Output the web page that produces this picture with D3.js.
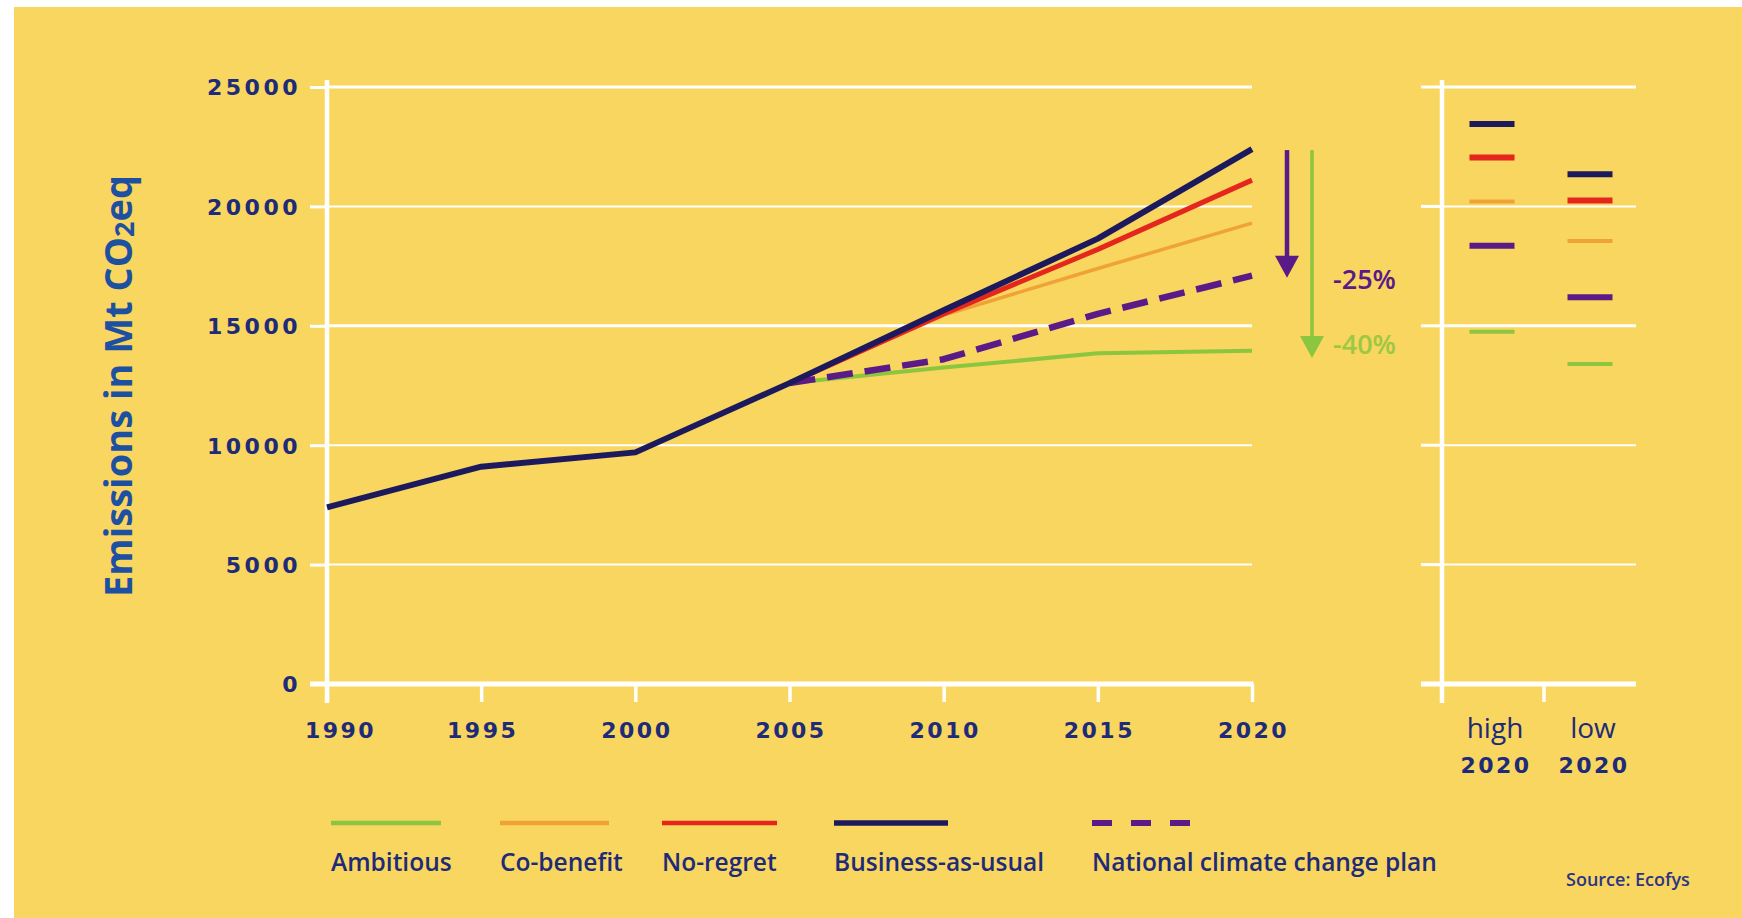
<!DOCTYPE html>
<html><head><meta charset="utf-8">
<script src="https://cdn.jsdelivr.net/npm/d3@7"></script>
<style>body{margin:0;background:#fff;} svg{display:block}</style>
</head><body>
<svg id="chart" width="1742" height="918"></svg>
<script>
// ---- data ----
const years = [1990, 1995, 2000, 2005, 2010, 2015, 2020];
const scenarioYears = [2005, 2010, 2015, 2020];
const businessAsUsual = [7400, 9100, 9700, 12600, 15650, 18650, 22400];
const noRegret = [12600, 15500, 18200, 21100];
const coBenefit = [12600, 15450, 17400, 19300];
const ambitious = [12600, 13250, 13850, 13950];
const nationalPlan = [12600, 13600, 15500, 17100];
const yTicks = [0, 5000, 10000, 15000, 20000, 25000];
const seriesNames = ["Ambitious", "Co-benefit", "No-regret", "Business-as-usual", "National climate change plan"];
const rangeCategories = ["high", "low"];
const high2020 = [14750, 20200, 22050, 23450, 18350];   // order of seriesNames
const low2020 = [13400, 18550, 20250, 21350, 16200];
const reductionPct = [25, 40];
const reductionLabels = ["-25%", "-40%"];

// ---- style ----
const colors = ["#8cc63f", "#f0a237", "#e5261c", "#1c1a5c", "#5a1a88"];
const widths = [4, 3.5, 5, 6, 6.5];
const navyText = "#1e2b78";
const bg = "#f8d65f";
const font = "'DejaVu Sans', sans-serif";
const legFont = "'Open Sans', sans-serif";

const svg = d3.select("#chart");
svg.append("rect").attr("x", 14).attr("y", 7).attr("width", 1742).attr("height", 918).attr("fill", bg);

const x = d3.scaleLinear().domain([1990, 2020]).range([327, 1252]);
const y = d3.scaleLinear().domain([0, 25000]).range([684, 87]);
const band = d3.scaleBand().domain(rangeCategories).range([1446, 1642]);

// gridlines main
const g = svg.append("g");
g.selectAll(".grid").data(yTicks.filter(d => d > 0)).join("line")
  .attr("x1", 327).attr("x2", x(2020)).attr("y1", d => y(d)).attr("y2", d => y(d))
  .attr("stroke", "#fff").attr("stroke-width", d => (d === 25000 || d === 15000) ? 3 : 2);
// gridlines right panel
g.selectAll(".grid2").data(yTicks.filter(d => d > 0)).join("line")
  .attr("x1", 1442).attr("x2", band.range()[1] - 6).attr("y1", d => y(d)).attr("y2", d => y(d))
  .attr("stroke", "#fff").attr("stroke-width", d => (d === 25000 || d === 15000) ? 3 : 2);

// y axis (main)
const yAxis = svg.append("g").attr("transform", `translate(${x(1990)},0)`)
  .call(d3.axisLeft(y).tickValues(yTicks).tickSize(17).tickPadding(10).tickFormat(d3.format("d")));
yAxis.select(".domain").remove();
yAxis.selectAll(".tick line").attr("stroke", "#fff").attr("stroke-width", 3);
yAxis.selectAll(".tick text").attr("fill", navyText).attr("font-family", font).attr("font-weight", "bold")
  .attr("font-size", 22).attr("letter-spacing", 3.5).attr("x", -26).attr("dy", "0.36em");
svg.append("line").attr("x1", x(1990)).attr("x2", x(1990)).attr("y1", 80).attr("y2", 703)
  .attr("stroke", "#fff").attr("stroke-width", 4.5);

// x axis (main)
const xAxis = svg.append("g").attr("transform", `translate(0,${y(0)})`)
  .call(d3.axisBottom(x).tickValues(years).tickSize(18).tickFormat(d3.format("d")));
xAxis.select(".domain").remove();
xAxis.selectAll(".tick line").attr("stroke", "#fff").attr("stroke-width", 3.5);
xAxis.selectAll(".tick text").attr("fill", navyText).attr("font-family", font).attr("font-weight", "bold")
  .attr("font-size", 22).attr("letter-spacing", 2.5).attr("y", 46).attr("dy", "0.36em")
  .attr("dx", (d, i) => i === 0 ? 13 : 1);
svg.append("line").attr("x1", 310).attr("x2", x(2020) + 1.5).attr("y1", y(0)).attr("y2", y(0))
  .attr("stroke", "#fff").attr("stroke-width", 5);

// y title
const title = svg.append("text").attr("transform", "translate(117,386) rotate(-90)")
  .attr("text-anchor", "middle").attr("dominant-baseline", "central")
  .attr("font-family", legFont).attr("font-weight", 700).attr("font-size", 38).attr("fill", "#1e50a2");
title.append("tspan").text("Emissions in Mt CO");
title.append("tspan").text("2").attr("font-size", 27).attr("dy", 6);
title.append("tspan").text("eq").attr("dy", -6);

// lines
const line = d3.line().x(d => x(d[0])).y(d => y(d[1]));
const scen = [
  {i: 0, vals: ambitious, yrs: scenarioYears},
  {i: 4, vals: nationalPlan, yrs: scenarioYears, dash: "26 12"},
  {i: 1, vals: coBenefit, yrs: scenarioYears},
  {i: 2, vals: noRegret, yrs: scenarioYears},
  {i: 3, vals: businessAsUsual, yrs: years}
];
svg.append("g").selectAll("path").data(scen).join("path")
  .attr("d", s => line(s.yrs.map((yr, k) => [yr, s.vals[k]])))
  .attr("fill", "none").attr("stroke", s => colors[s.i]).attr("stroke-width", s => widths[s.i])
  .attr("stroke-linejoin", "round")
  .attr("stroke-dasharray", s => s.dash || null);

// reduction arrows
const bau2020 = businessAsUsual[businessAsUsual.length - 1];
const arrowColors = [colors[4], colors[0]];
const arrowX = [x(2020) + 35, x(2020) + 60];
reductionPct.forEach((p, k) => {
  const y0 = y(bau2020) + 1;
  const tip = y(bau2020 * (1 - p / 100)) - 5;
  const ax = arrowX[k];
  svg.append("line").attr("x1", ax).attr("x2", ax).attr("y1", y0).attr("y2", tip - 15)
    .attr("stroke", arrowColors[k]).attr("stroke-width", k === 0 ? 4.5 : 3.5);
  svg.append("path").attr("d", `M${ax - 12},${tip - 22} L${ax + 12},${tip - 22} L${ax},${tip} Z`)
    .attr("fill", arrowColors[k]);
  svg.append("text").attr("x", 1333).attr("y", k === 0 ? tip + 2 : tip - 14).attr("dy", "0.35em")
    .attr("font-family", legFont).attr("font-weight", 600).attr("font-size", 27)
    .attr("fill", arrowColors[k]).attr("opacity", k === 0 ? 1 : 0.85).text(reductionLabels[k]);
});

// right panel axes
svg.append("g").selectAll("line").data(yTicks).join("line")
  .attr("x1", 1421).attr("x2", 1442).attr("y1", d => y(d)).attr("y2", d => y(d))
  .attr("stroke", "#fff").attr("stroke-width", 3);
svg.append("line").attr("x1", 1442).attr("x2", 1442).attr("y1", 80).attr("y2", 703)
  .attr("stroke", "#fff").attr("stroke-width", 4.5);
svg.append("line").attr("x1", 1421).attr("x2", band.range()[1] - 6).attr("y1", y(0)).attr("y2", y(0))
  .attr("stroke", "#fff").attr("stroke-width", 5);
svg.append("line").attr("x1", band("low")).attr("x2", band("low")).attr("y1", y(0)).attr("y2", y(0) + 18)
  .attr("stroke", "#fff").attr("stroke-width", 3.5);

// right panel markers
const markerW = 45;
const markerH = [4, 4, 6, 6, 6];
const markers = [];
seriesNames.forEach((n, i) => {
  markers.push({cat: "high", v: high2020[i], i});
  markers.push({cat: "low", v: low2020[i], i});
});
svg.append("g").selectAll("line").data(markers).join("line")
  .attr("x1", d => band(d.cat) + band.bandwidth() / 2 - 3 - markerW / 2)
  .attr("x2", d => band(d.cat) + band.bandwidth() / 2 - 3 + markerW / 2)
  .attr("y1", d => y(d.v)).attr("y2", d => y(d.v))
  .attr("stroke", d => colors[d.i]).attr("stroke-width", d => markerH[d.i]);

// right panel labels
rangeCategories.forEach(c => {
  const cx = band(c) + band.bandwidth() / 2;
  svg.append("text").attr("x", cx).attr("y", 728).attr("dy", "0.35em").attr("text-anchor", "middle")
    .attr("font-family", legFont).attr("font-size", 28).attr("fill", navyText).text(c);
  svg.append("text").attr("x", cx + 1).attr("y", 765).attr("dy", "0.36em").attr("text-anchor", "middle")
    .attr("font-family", font).attr("font-weight", "bold").attr("font-size", 22).attr("letter-spacing", 2.5)
    .attr("fill", navyText).text("2020");
});

// legend
const legendX = [331, 500, 662, 834, 1092];
const legendLen = [110, 109, 115, 114, 98];
const leg = svg.append("g").selectAll("g").data(seriesNames).join("g")
  .attr("transform", (d, i) => `translate(${legendX[i]},0)`);
leg.append("line").attr("x1", 0).attr("x2", (d, i) => legendLen[i]).attr("y1", 823).attr("y2", 823)
  .attr("stroke", (d, i) => colors[i]).attr("stroke-width", (d, i) => i === 4 ? 6 : (i === 3 ? 5.5 : 4.5))
  .attr("stroke-dasharray", (d, i) => i === 4 ? "20 19" : null);
leg.append("text").attr("x", 0).attr("y", 862).attr("dy", "0.35em")
  .attr("font-family", legFont).attr("font-weight", 600).attr("font-size", 24.5).attr("fill", navyText)
  .text(d => d);

svg.append("text").attr("x", 1566).attr("y", 880).attr("dy", "0.35em")
  .attr("font-family", legFont).attr("font-weight", 600).attr("font-size", 18).attr("fill", "#2b3585")
  .text("Source: Ecofys");
</script>
</body></html>
